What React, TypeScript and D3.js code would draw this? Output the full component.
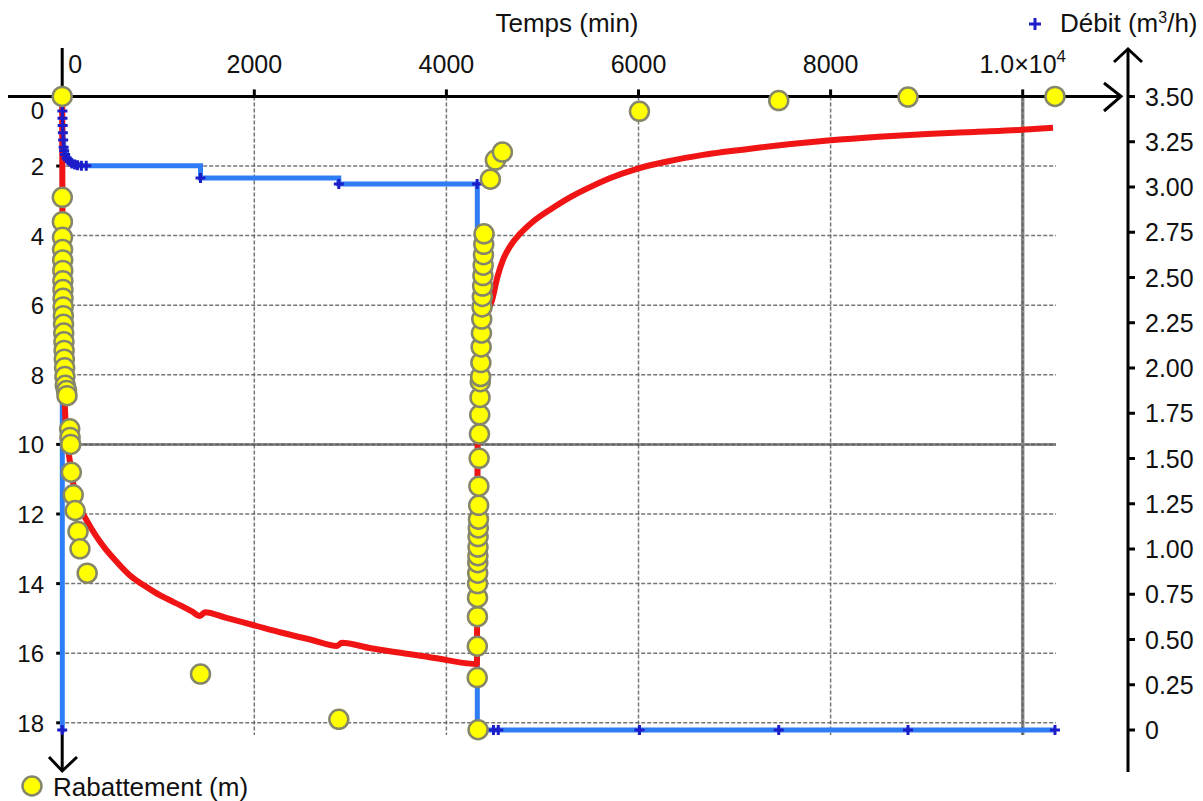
import React from 'react';
import * as d3 from 'd3';

type Pt = [number, number];

// temps (min), rabattement (m) - mesures pendant le pompage
const rabPompage: Pt[] = [
  [0, 0], [1, 2.9], [2, 3.6], [3, 4.05], [4, 4.4], [5, 4.7], [6, 5.0], [7, 5.3], [8, 5.55],
  [9, 5.8], [10, 6.05], [12, 6.3], [14, 6.55], [16, 6.8], [18, 7.05], [20, 7.3], [22, 7.55],
  [25, 7.8], [28, 8.05], [32, 8.3], [45, 8.45], [50, 8.6], [78, 9.55], [82, 9.8], [88, 10.0],
  [95, 10.8], [115, 11.45], [135, 11.9], [165, 12.5], [185, 13.0], [260, 13.7],
  [1440, 16.6], [2880, 17.9], [4330, 18.2],
];

// mesures de remontée
const rabRemontee: Pt[] = [
  [4321, 16.7], [4322, 15.8], [4323, 14.95], [4324, 14.4], [4325, 14.0], [4326, 13.7],
  [4327, 13.4], [4328, 13.2], [4329, 12.95], [4330, 12.65], [4332, 12.4], [4334, 12.15],
  [4336, 11.75], [4338, 11.2], [4341, 10.4], [4344, 9.7], [4347, 9.15], [4350, 8.65],
  [4353, 8.2], [4356, 8.05], [4359, 7.65], [4362, 7.2], [4365, 6.8], [4368, 6.4],
  [4371, 6.05], [4374, 5.75], [4377, 5.45], [4380, 5.15], [4383, 4.85], [4386, 4.55],
  [4389, 4.25], [4392, 3.95], [4458, 2.38], [4510, 1.83], [4583, 1.6],
  [6010, 0.43], [7460, 0.12], [8806, 0.02], [10336, 0],
];

// temps (min), débit (m3/h)
const debit: Pt[] = [
  [0, 0], [1, 3.46], [2, 3.42], [3, 3.38], [5, 3.34], [7, 3.3], [10, 3.26], [15, 3.22],
  [20, 3.2], [30, 3.18], [45, 3.16], [60, 3.15], [80, 3.14], [100, 3.13], [130, 3.125],
  [160, 3.12], [200, 3.118], [250, 3.118], [1440, 3.05], [2880, 3.016], [4320, 3.016],
  [4322, 0], [4490, 0], [4540, 0], [6010, 0], [7460, 0], [8806, 0], [10336, 0],
];

// courbe calculée (modèle)
const modelPompage: Pt[] = [
  [0, 0], [1, 1.8], [3, 3.6], [6, 5.2], [10, 6.4], [15, 7.5], [20, 8.2], [29, 9.0],
  [45, 9.7], [60, 10.1], [81, 10.5], [110, 11.05], [150, 11.55], [200, 11.9], [258, 12.2],
  [350, 12.62], [450, 13.0], [550, 13.32], [700, 13.75], [850, 14.05], [966, 14.25],
  [1101, 14.45], [1226, 14.62], [1350, 14.8], [1435, 14.93], [1487, 14.82], [1700, 14.98],
  [1987, 15.19], [2300, 15.42], [2600, 15.62], [2860, 15.79], [2912, 15.7], [3200, 15.85],
  [3500, 15.98], [3800, 16.1], [4006, 16.2], [4318, 16.31],
];

const modelRemontee: Pt[] = [
  [4320, 14.5], [4322, 12.5], [4325, 10.2], [4330, 8.7], [4340, 7.6], [4360, 6.9],
  [4400, 6.4], [4440, 6.1], [4475, 5.86], [4530, 5.2], [4589, 4.7], [4670, 4.28],
  [4766, 3.95], [4900, 3.6], [5110, 3.2], [5300, 2.88], [5463, 2.65], [5700, 2.35],
  [5984, 2.08], [6300, 1.87], [6671, 1.68], [7265, 1.47], [7973, 1.27], [8500, 1.16],
  [9004, 1.08], [9500, 1.02], [9993, 0.96], [10316, 0.9],
];

const xTicks = [0, 2000, 4000, 6000, 8000, 10000];
const leftTicks = [0, 2, 4, 6, 8, 10, 12, 14, 16, 18];
const rightTicks = [0, 0.25, 0.5, 0.75, 1, 1.25, 1.5, 1.75, 2, 2.25, 2.5, 2.75, 3, 3.25, 3.5];

const FONT = '"Liberation Sans", Arial, sans-serif';

const App = () => {
  const x = d3.scaleLinear().domain([0, 10000]).range([62.2, 1022.7]);
  const yL = d3.scaleLinear().domain([0, 18]).range([96.4, 722.8]);
  const yR = d3.scaleLinear().domain([0, 3.5]).range([730, 96.5]);

  const axisY = yL(0);
  const axisX = x(0);

  const debitLine = d3.line<Pt>()
    .x(d => x(d[0]))
    .y(d => yR(d[1]))
    .curve(d3.curveStepAfter);

  const modelLine = d3.line<Pt>()
    .x(d => x(d[0]))
    .y(d => yL(d[1]))
    .curve(d3.curveMonotoneX);

  const gridRight = 1056;
  const gridBottom = 735;
  const yellow = [...rabPompage, ...rabRemontee];

  return (
    <svg width={1203} height={801} style={{ position: 'absolute', left: 0, top: 0, background: '#fff' }}
      fontFamily={FONT}>
      {/* grille */}
      {leftTicks.filter(t => t > 0).map(t => (
        <g key={'h' + t}>
          {t === 10 && <line x1={axisX + 3} x2={gridRight} y1={yL(t)} y2={yL(t)} stroke="#8c8c8c" strokeWidth={3} />}
          <line x1={axisX + 3} x2={gridRight} y1={yL(t)} y2={yL(t)}
            stroke="#555" strokeWidth={1.5} strokeDasharray="4 2" opacity={0.8} />
        </g>
      ))}
      {xTicks.filter(t => t > 0).map(t => (
        <g key={'v' + t}>
          {t === 10000 && <line x1={x(t)} x2={x(t)} y1={axisY} y2={gridBottom} stroke="#8c8c8c" strokeWidth={3.5} />}
          <line x1={x(t)} x2={x(t)} y1={axisY} y2={gridBottom}
            stroke="#555" strokeWidth={1.5} strokeDasharray="4 2" opacity={0.8} />
        </g>
      ))}

      {/* axes */}
      <line x1={8} x2={1121} y1={axisY} y2={axisY} stroke="#000" strokeWidth={3} />
      <polyline points={`1104,83 1121,${axisY} 1104,111`} fill="none" stroke="#000" strokeWidth={3} />
      <line x1={axisX} x2={axisX} y1={48} y2={771} stroke="#000" strokeWidth={3} />
      <polyline points={`49,757 ${axisX},771 77,757`} fill="none" stroke="#000" strokeWidth={3} />
      <line x1={1128} x2={1128} y1={49} y2={772} stroke="#000" strokeWidth={3} />
      <polyline points="1114,62 1128,49 1142,62" fill="none" stroke="#000" strokeWidth={3} />

      {/* graduations haut */}
      {xTicks.map(t => (
        t > 0 && <line key={'tx' + t} x1={x(t)} x2={x(t)} y1={axisY - 7} y2={axisY} stroke="#000" strokeWidth={3} />
      ))}
      {xTicks.map(t => {
        if (t === 0) {
          return <text key={'lx' + t} x={x(t) + 6} y={73} fontSize={25} fill="#111">0</text>;
        }
        if (t === 10000) {
          return (
            <text key={'lx' + t} x={x(t)} y={73} fontSize={25} fill="#111" textAnchor="middle">
              1.0×10<tspan dy={-11} fontSize={17}>4</tspan>
            </text>
          );
        }
        return <text key={'lx' + t} x={x(t)} y={73} fontSize={25} fill="#111" textAnchor="middle">{t}</text>;
      })}

      {/* graduations gauche */}
      {leftTicks.filter(t => t > 0).map(t => (
        <line key={'tl' + t} x1={axisX - 6} x2={axisX} y1={yL(t)} y2={yL(t)} stroke="#000" strokeWidth={3} />
      ))}
      {leftTicks.map(t => (
        <text key={'ll' + t} x={44} y={(t === 0 ? yL(t) + 14 : yL(t)) + 9} fontSize={24}
          textAnchor="end" fill="#111">{t}</text>
      ))}

      {/* graduations droite */}
      {rightTicks.map(t => (
        <g key={'r' + t}>
          <line x1={1128} x2={1135} y1={yR(t)} y2={yR(t)} stroke="#000" strokeWidth={3} />
          <text x={1145} y={yR(t) + 9} fontSize={25} fill="#111">{t === 0 ? '0' : t.toFixed(2)}</text>
        </g>
      ))}

      {/* titres */}
      <text x={567} y={32} fontSize={26} textAnchor="middle" fill="#111">Temps (min)</text>
      <path d="M1029,24H1041M1035,18V30" stroke="#1c1cc8" strokeWidth={3} />
      <text x={1060} y={32} fontSize={26} fill="#111">Débit (m<tspan dy={-9} fontSize={16}>3</tspan><tspan dy={9}>/h)</tspan></text>

      {/* débit */}
      <path d={debitLine(debit) || ''} fill="none" stroke="#2f7df5" strokeWidth={5} />

      {/* modèle */}
      <path d={modelLine([...modelPompage, ...modelRemontee]) || ''} fill="none" stroke="#f01414"
        strokeWidth={6} strokeLinejoin="round" />

      {debit.map((d, i) => (
        <path key={'dm' + i} transform={`translate(${x(d[0])},${yR(d[1])})`}
          d="M-5,0H5M0,-5V5" stroke="#1c1cc8" strokeWidth={3} />
      ))}

      {/* rabattement */}
      {yellow.map((d, i) => (
        <circle key={'y' + i} cx={x(d[0])} cy={yL(d[1])} r={9.5} fill="#ffff00" stroke="#86866a" strokeWidth={2.5} />
      ))}

      {/* légende */}
      <circle cx={32} cy={786} r={9.5} fill="#ffff00" stroke="#86866a" strokeWidth={2.5} />
      <text x={53} y={796} fontSize={26} fill="#111">Rabattement (m)</text>
    </svg>
  );
};

export default App;
